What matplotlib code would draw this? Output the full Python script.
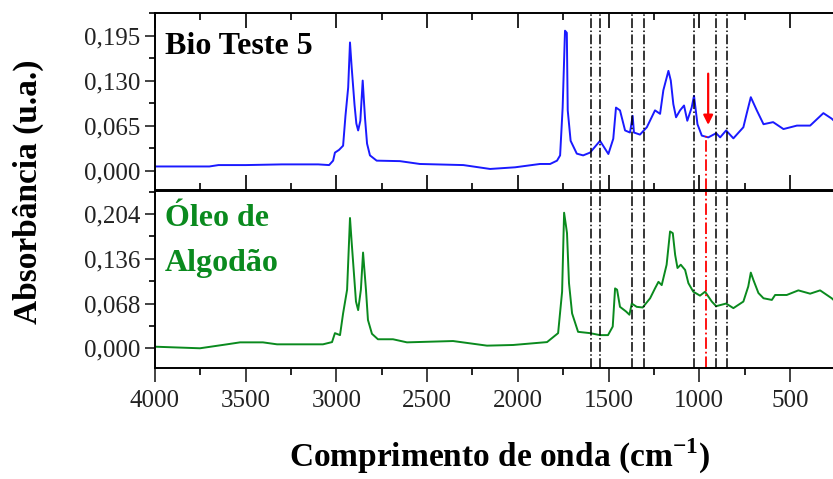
import matplotlib
matplotlib.use("Agg")
import matplotlib.pyplot as plt
from matplotlib.ticker import MultipleLocator, FixedLocator

plt.rcParams['font.family'] = ['Liberation Serif', 'DejaVu Serif']
plt.rcParams['mathtext.fontset'] = 'custom'
plt.rcParams['mathtext.rm'] = 'Liberation Serif'
plt.rcParams['mathtext.bf'] = 'Liberation Serif:bold'

# Bio Teste 5 (top panel)
wn_bio = [4000, 3700, 3650, 3500, 3300, 3100, 3040, 3018, 3008, 2985, 2963, 2950, 2935,
          2925, 2916, 2900, 2890, 2880, 2868, 2855, 2848, 2842, 2831, 2815, 2778, 2650,
          2540, 2450, 2300, 2153, 2015, 1878, 1822, 1784, 1767, 1753, 1740, 1730, 1725,
          1709, 1675, 1640, 1602, 1547, 1501, 1474, 1459, 1437, 1409, 1382, 1367, 1360,
          1327, 1289, 1244, 1216, 1198, 1170, 1157, 1143, 1128, 1106, 1084, 1066, 1042,
          1029, 1010, 986, 950, 907, 885, 852, 812, 757, 739, 716, 683, 646, 593, 536,
          462, 389, 316, 270, 262]
abs_bio = [0.006, 0.006, 0.008, 0.008, 0.009, 0.009, 0.008, 0.0144, 0.026, 0.030, 0.036,
           0.079, 0.120, 0.185, 0.150, 0.095, 0.068, 0.058, 0.072, 0.130, 0.100, 0.075,
           0.039, 0.022, 0.0144, 0.0137, 0.0096, 0.009, 0.008, 0.0024, 0.0048, 0.0096,
           0.0096, 0.0144, 0.022, 0.091, 0.202, 0.199, 0.087, 0.043, 0.0245, 0.022, 0.026,
           0.043, 0.024, 0.046, 0.091, 0.087, 0.058, 0.055, 0.079, 0.055, 0.052, 0.0626,
           0.087, 0.082, 0.116, 0.144, 0.130, 0.096, 0.077, 0.087, 0.094, 0.072, 0.091,
           0.108, 0.067, 0.0505, 0.048, 0.054, 0.048, 0.058, 0.0466, 0.0626, 0.082, 0.106,
           0.087, 0.067, 0.070, 0.060, 0.065, 0.065, 0.083, 0.075, 0.073]

# Oleo de Algodao (bottom panel)
wn_oleo = [4000, 3752, 3603, 3531, 3405, 3327, 3074, 3024, 3008, 2980, 2963, 2941, 2925,
           2916, 2892, 2880, 2865, 2853, 2837, 2826, 2804, 2771, 2688, 2611, 2357, 2170,
           2026, 1839, 1778, 1756, 1745, 1734, 1729, 1718, 1701, 1668, 1602, 1547, 1503,
           1477, 1464, 1453, 1437, 1404, 1385, 1372, 1345, 1312, 1271, 1244, 1225, 1207,
           1180, 1161, 1146, 1133, 1120, 1102, 1078, 1060, 1033, 996, 968, 931, 907, 852,
           812, 757, 730, 716, 702, 674, 646, 600, 582, 518, 454, 389, 334, 270, 262]
abs_oleo = [0.0024, 0.000, 0.006, 0.009, 0.009, 0.006, 0.006, 0.0094, 0.023, 0.020, 0.053,
            0.089, 0.198, 0.162, 0.071, 0.058, 0.089, 0.1455, 0.089, 0.043, 0.022, 0.0137,
            0.0137, 0.009, 0.011, 0.004, 0.005, 0.0094, 0.023, 0.086, 0.206, 0.185, 0.175,
            0.099, 0.053, 0.025, 0.023, 0.020, 0.020, 0.033, 0.091, 0.089, 0.063, 0.056,
            0.051, 0.068, 0.063, 0.062, 0.076, 0.091, 0.101, 0.096, 0.127, 0.1775, 0.175,
            0.142, 0.122, 0.127, 0.119, 0.099, 0.086, 0.080, 0.086, 0.071, 0.064, 0.068,
            0.061, 0.071, 0.094, 0.115, 0.104, 0.084, 0.076, 0.0735, 0.081, 0.081, 0.088,
            0.083, 0.088, 0.076, 0.074]

band_lines = [1597, 1547, 1370, 1304, 1029, 907, 847]
red_line = 962

yt_bio = [0.000, 0.065, 0.130, 0.195]
yt_oleo = [0.000, 0.068, 0.136, 0.204]

fig = plt.figure(figsize=(8.33, 4.79), dpi=100)
ax1 = fig.add_axes([0.186, 0.6033, 0.814, 0.3695])
ax2 = fig.add_axes([0.186, 0.2317, 0.814, 0.3695])

ax1.plot(wn_bio, abs_bio, color='#1a1aff', lw=1.4)
ax2.plot(wn_oleo, abs_oleo, color='#0a8a1e', lw=1.4)

for ax in (ax1, ax2):
    for x in band_lines:
        ax.axvline(x, color='black', ls='-.', lw=1.1)
    ax.set_xlim(4000, 263)
    ax.xaxis.set_major_locator(MultipleLocator(500))
    ax.xaxis.set_minor_locator(MultipleLocator(250))
    ax.spines['right'].set_visible(False)
    for s in ax.spines.values():
        s.set_linewidth(1.4)
    ax.tick_params(axis='y', which='major', direction='out', length=7, width=1.2,
                   labelsize=18, colors='#222222')
    ax.tick_params(axis='y', which='minor', direction='out', length=4, width=1.2)

ax1.set_ylim(-0.028, 0.2275)
ax1.yaxis.set_major_locator(FixedLocator(yt_bio))
ax1.yaxis.set_minor_locator(MultipleLocator(0.0325))
ax1.set_yticklabels([f"{v:.3f}".replace('.', ',') for v in yt_bio])
ax1.tick_params(axis='x', which='major', direction='in', length=11, width=1.2,
                labelbottom=False, top=True)
ax1.tick_params(axis='x', which='minor', direction='in', length=5, width=1.2, top=True)

ax2.set_ylim(-0.030, 0.239)
ax2.yaxis.set_major_locator(FixedLocator(yt_oleo))
ax2.yaxis.set_minor_locator(MultipleLocator(0.034))
ax2.set_yticklabels([f"{v:.3f}".replace('.', ',') for v in yt_oleo])
ax2.tick_params(axis='x', which='major', direction='out', length=10, width=1.2,
                labelsize=18, colors='#222222', pad=6)
ax2.tick_params(axis='x', which='minor', direction='out', length=5, width=1.2)

# marked band
ax1.vlines(red_line, -0.028, 0.05, color='red', ls='-.', lw=1.3)
ax2.axvline(red_line, color='red', ls='-.', lw=1.3)
ax1.annotate('', xy=(951, 0.062), xytext=(951, 0.144),
             arrowprops=dict(arrowstyle='-|>', color='red', lw=1.6, mutation_scale=14))

ax1.text(0.015, 0.81, 'Bio Teste 5', transform=ax1.transAxes, fontsize=23,
         fontweight='bold', color='black', va='center')
ax2.text(0.015, 0.847, 'Óleo de', transform=ax2.transAxes, fontsize=23,
         fontweight='bold', color='#0a8a1e', va='center')
ax2.text(0.015, 0.593, 'Algodão', transform=ax2.transAxes, fontsize=23,
         fontweight='bold', color='#0a8a1e', va='center')

fig.text(0.6, 0.048, 'Comprimento de onda (cm$^{\\mathbf{-1}}$)', ha='center', va='center',
         fontsize=24, fontweight='bold')
fig.text(0.034, 0.6, 'Absorbância (u.a.)', ha='center', va='center', rotation=90,
         fontsize=24, fontweight='bold')

fig.savefig('out.png', dpi=100)
